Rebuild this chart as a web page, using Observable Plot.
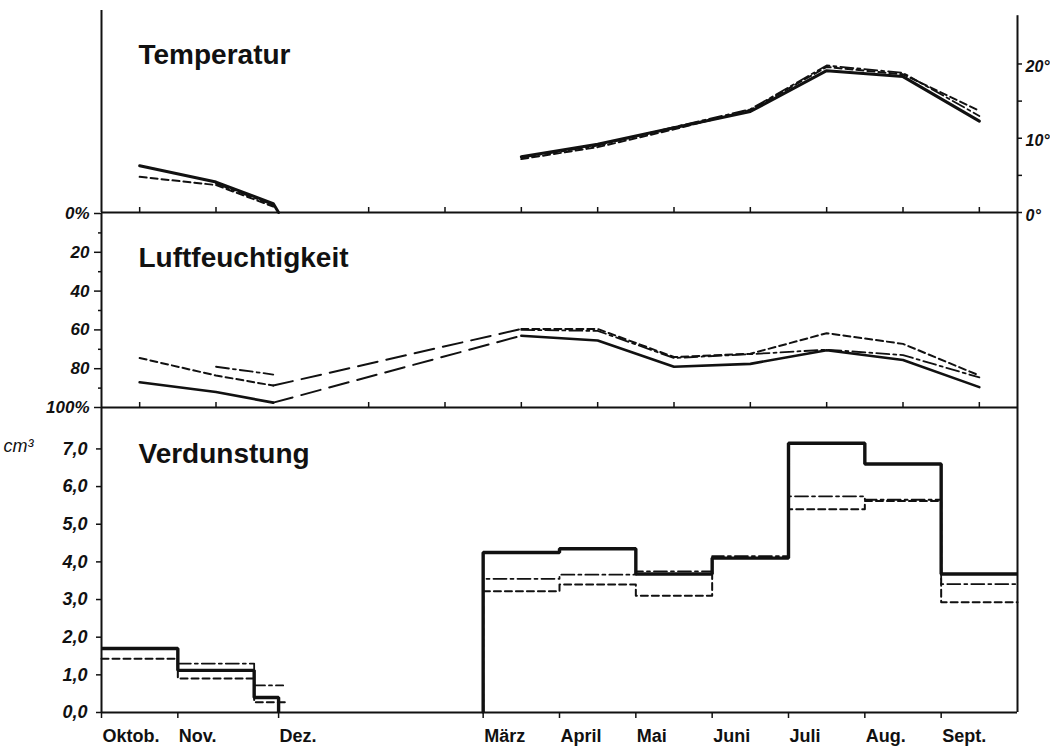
<!DOCTYPE html>
<html>
<head>
<meta charset="utf-8">
<script src="https://cdn.jsdelivr.net/npm/d3@7"></script>
<script src="https://cdn.jsdelivr.net/npm/@observablehq/plot@0.6"></script>
<style>
  html, body { margin: 0; padding: 0; background: #fff; }
  #chart { position: relative; width: 1050px; height: 751px; overflow: hidden; }
  #chart svg { position: absolute; left: 0; top: 0; background: transparent; }
</style>
</head>
<body>
<div id="chart"></div>
<script>
// ---------- DATA ----------
// x = months counted from 1 October (0 = Oktob., 12 = next Oktob.)
const monthTickX   = [0, 1, 2.32, 5, 6, 7, 8, 9, 10, 11];
const monthLabels  = ["Oktob.", "Nov.", "Dez.", "März", "April", "Mai", "Juni", "Juli", "Aug.", "Sept."];
const midMonthTicks = [0.5, 1.5, 3.5, 4.5, 5.5, 6.5, 7.5, 8.5, 9.5, 10.5, 11.5];
const dezEnd = 2.32;

const panelTitles = ["Temperatur", "Luftfeuchtigkeit", "Verdunstung"];

// Temperatur (°C), monthly means plotted mid-month
const tempTicks  = [0, 10, 20];
const tempLabels = ["0°", "10°", "20°"];
const tempMinorTicks = [5, 15];
const tempAutumnX = [0.5, 1.5, 2.25];
const tempSpringX = [5.5, 6.5, 7.5, 8.5, 9.5, 10.5, 11.5];
const tempSolidAutumn   = [6.3, 4.1, 1.2];
const tempDashAutumn    = [4.8, 3.7, 0.8];
const tempDashDotAutumn = [null, 3.9, 1.0];
const tempSolidSpring   = [7.5, 9.2, 11.4, 13.6, 19.1, 18.3, 12.3];
const tempDashSpring    = [7.2, 8.8, 11.2, 13.8, 19.6, 18.6, 13.7];
const tempDashDotSpring = [7.4, 9.0, 11.5, 13.9, 19.8, 18.8, 13.0];

// Luftfeuchtigkeit (%), axis reversed (0 % top, 100 % bottom)
const humTicks  = [0, 20, 40, 60, 80, 100];
const humLabels = ["0%", "20", "40", "60", "80", "100%"];
const humMinorTicks = [10, 30, 50, 70, 90];
const humAutumnX = [0.5, 1.5, 2.25];
const humSpringX = [5.5, 6.5, 7.5, 8.5, 9.5, 10.5, 11.5];
const humSolidAutumn   = [87, 92, 97.5];
const humDashAutumn    = [74.5, 83.5, 88.7];
const humDashDotAutumn = [null, 79, 83];
const humSolidSpring   = [63, 65.5, 79, 77.5, 70.5, 75.5, 89.5];
const humDashSpring    = [59.5, 59.5, 74, 72.3, 61.7, 67.2, 83.5];
const humDashDotSpring = [60, 60.5, 74.5, 72.5, 70.2, 73, 84.5];

// Verdunstung (cm³), monthly step values starting at month start
const evapTicks  = [0, 1, 2, 3, 4, 5, 6, 7];
const evapLabels = ["0,0", "1,0", "2,0", "3,0", "4,0", "5,0", "6,0", "7,0"];
const evapUnit = "cm³";
const evapAutumnX = [0, 1, 2];
const evapSpringX = [5, 6, 7, 8, 9, 10, 11];
const evapSpringEnd = 12;
const evapSolidAutumn   = [1.7, 1.12, 0.4];
const evapDashAutumn    = [1.43, 0.9, 0.27];
const evapDashDotAutumn = [null, 1.3, 0.72];
const evapAutumnEnd = { solid: 2.32, dash: 2.44, dashdot: 2.38 };
const evapSolidSpring   = [4.25, 4.35, 3.68, 4.1, 7.15, 6.6, 3.68];
const evapDashSpring    = [3.22, 3.4, 3.1, 4.1, 5.4, 5.62, 2.93];
const evapDashDotSpring = [3.55, 3.66, 3.75, 4.15, 5.74, 5.65, 3.41];

// ---------- HELPERS ----------
const ink = "#111";
const fontFamily = "'Liberation Sans', Arial, Helvetica, sans-serif";
const W = 1050, H = 751, ML = 101, MR = 33;
const xScale = { domain: [0, 12], axis: null };
const style = { fontFamily, background: "transparent", color: ink };

const solid   = { stroke: ink, strokeWidth: 3, strokeLinejoin: "round", strokeLinecap: "round" };
const dash    = { stroke: ink, strokeWidth: 2, strokeDasharray: "7,4" };
const dashdot = { stroke: ink, strokeWidth: 1.8, strokeDasharray: "13,4,3,4" };
const longdash = { stroke: ink, strokeWidth: 2, strokeDasharray: "20,9" };
const axisLine = { stroke: ink, strokeWidth: 2 };
const tickLine = { stroke: ink, strokeWidth: 1.5 };
const tickFont = { fontSize: 17, fontWeight: "bold", fontStyle: "italic", fill: ink };
const titleFont = { fontSize: 28, fontWeight: "bold", fill: ink };

const pts = (xs, ys) => xs.map((x, i) => ({ x, y: ys[i] })).filter(d => d.y != null);
const ticksOf = (vals, labels) => vals.map((v, i) => ({ v, label: labels[i] }));
const title = (t, dy) => Plot.text([t], { text: d => d, frameAnchor: "top-left", dx: 37, dy,
  textAnchor: "start", lineAnchor: "bottom", ...titleFont });

const chart = document.getElementById("chart");

// ---------- PANEL 1: TEMPERATUR ----------
const tempTop = 27.2, tempAxisTop = 26.5;
chart.append(Plot.plot({
  width: W, height: H, marginLeft: ML, marginRight: MR, marginTop: 10, marginBottom: H - 212,
  x: xScale, y: { domain: [0, tempTop], axis: null }, style,
  marks: [
    Plot.ruleX([0], axisLine),
    Plot.ruleX([12], { y1: 0, y2: tempAxisTop, ...axisLine }),
    Plot.ruleY([0], axisLine),
    Plot.ruleX(midMonthTicks, { y1: 0, y2: 0, insetTop: -5, ...tickLine }),
    Plot.ruleY(tempTicks.concat(tempMinorTicks), { x1: 12, x2: 12, insetRight: -5, ...tickLine }),
    Plot.text(ticksOf(tempTicks, tempLabels), { y: "v", text: "label", frameAnchor: "right",
      textAnchor: "start", dx: 8, dy: 3, ...tickFont, fontSize: 16 }),
    Plot.line(pts(tempAutumnX, tempDashAutumn), { x: "x", y: "y", ...dash }),
    Plot.line(pts(tempAutumnX, tempDashDotAutumn), { x: "x", y: "y", ...dashdot }),
    Plot.line(pts(tempAutumnX, tempSolidAutumn).concat([{ x: dezEnd, y: 0 }]), { x: "x", y: "y", ...solid }),
    Plot.line(pts(tempSpringX, tempDashSpring), { x: "x", y: "y", ...dash }),
    Plot.line(pts(tempSpringX, tempDashDotSpring), { x: "x", y: "y", ...dashdot }),
    Plot.line(pts(tempSpringX, tempSolidSpring), { x: "x", y: "y", ...solid }),
    title(panelTitles[0], 53)
  ]
}));

// ---------- PANEL 2: LUFTFEUCHTIGKEIT ----------
const humWinter = [
  [ { x: humAutumnX[2], y: humSolidAutumn[2] }, { x: humSpringX[0], y: humSolidSpring[0] } ],
  [ { x: humAutumnX[2], y: humDashAutumn[2] },  { x: humSpringX[0], y: humDashSpring[0] } ]
];
chart.append(Plot.plot({
  width: W, height: H, marginLeft: ML, marginRight: MR, marginTop: 213, marginBottom: H - 407,
  x: xScale, y: { domain: [0, 100], reverse: true, axis: null }, style,
  marks: [
    Plot.ruleX([0], axisLine),
    Plot.ruleX([12], axisLine),
    Plot.ruleY([100], axisLine),
    Plot.ruleX(midMonthTicks, { y1: 100, y2: 100, insetTop: -5, ...tickLine }),
    Plot.ruleY(humTicks, { x1: 0, x2: 0, insetLeft: -7, ...tickLine }),
    Plot.ruleY(humMinorTicks, { x1: 0, x2: 0, insetLeft: -3, ...tickLine }),
    Plot.text(ticksOf(humTicks, humLabels), { y: "v", text: "label", frameAnchor: "left",
      textAnchor: "end", dx: -12, ...tickFont }),
    Plot.line(pts(humAutumnX, humDashAutumn), { x: "x", y: "y", ...dash }),
    Plot.line(pts(humAutumnX, humDashDotAutumn), { x: "x", y: "y", ...dashdot }),
    Plot.line(pts(humAutumnX, humSolidAutumn), { x: "x", y: "y", ...solid, strokeWidth: 2.6 }),
    ...humWinter.map(seg => Plot.line(seg, { x: "x", y: "y", ...longdash })),
    Plot.line(pts(humSpringX, humDashSpring), { x: "x", y: "y", ...dash }),
    Plot.line(pts(humSpringX, humDashDotSpring), { x: "x", y: "y", ...dashdot }),
    Plot.line(pts(humSpringX, humSolidSpring), { x: "x", y: "y", ...solid, strokeWidth: 2.6 }),
    title(panelTitles[1], 53)
  ]
}));

// ---------- PANEL 3: VERDUNSTUNG ----------
const evapTop = 8.1;
const stepSpring = vals => [{ x: evapSpringX[0], y: 0 }]
  .concat(pts(evapSpringX, vals))
  .concat([{ x: evapSpringEnd, y: vals[vals.length - 1] }]);
const stepAutumn = (vals, end, endVal) => pts(evapAutumnX, vals)
  .concat([{ x: end, y: endVal === undefined ? vals[vals.length - 1] : endVal }]);

chart.append(Plot.plot({
  width: W, height: H, marginLeft: ML, marginRight: MR, marginTop: 407, marginBottom: H - 712,
  x: xScale, y: { domain: [0, evapTop], axis: null }, style,
  marks: [
    Plot.ruleX([0], axisLine),
    Plot.ruleX([12], axisLine),
    Plot.ruleY([0], axisLine),
    Plot.ruleX(monthTickX, { y1: 0, y2: 0, insetBottom: -6, ...tickLine }),
    Plot.ruleY(evapTicks, { x1: 0, x2: 0, insetLeft: -5, ...tickLine }),
    Plot.text(ticksOf(evapTicks, evapLabels), { y: "v", text: "label", frameAnchor: "left",
      textAnchor: "end", dx: -14, ...tickFont, fontSize: 18 }),
    Plot.text([evapUnit], { text: d => d, y: evapTicks[evapTicks.length - 1], frameAnchor: "left",
      textAnchor: "end", dx: -68, dy: -3, ...tickFont, fontSize: 18, fontWeight: "normal" }),
    Plot.text(ticksOf(monthTickX, monthLabels), { x: "v", text: "label", frameAnchor: "bottom",
      textAnchor: "start", lineAnchor: "top", dx: 1, dy: 17, fontSize: 18, fontWeight: "bold", fill: ink }),
    Plot.line(stepAutumn(evapDashAutumn, evapAutumnEnd.dash), { x: "x", y: "y", curve: "step-after", ...dash }),
    Plot.line(stepAutumn(evapDashDotAutumn, evapAutumnEnd.dashdot), { x: "x", y: "y", curve: "step-after", ...dashdot }),
    Plot.line(stepAutumn(evapSolidAutumn, evapAutumnEnd.solid, 0), { x: "x", y: "y", curve: "step-after", ...solid, strokeWidth: 3.4, strokeLinecap: "butt", strokeLinejoin: "miter" }),
    Plot.line(stepSpring(evapDashSpring), { x: "x", y: "y", curve: "step-after", ...dash }),
    Plot.line(stepSpring(evapDashDotSpring), { x: "x", y: "y", curve: "step-after", ...dashdot }),
    Plot.line(stepSpring(evapSolidSpring), { x: "x", y: "y", curve: "step-after", ...solid, strokeWidth: 3.4, strokeLinecap: "butt", strokeLinejoin: "miter" }),
    title(panelTitles[2], 55)
  ]
}));
</script>
</body>
</html>
